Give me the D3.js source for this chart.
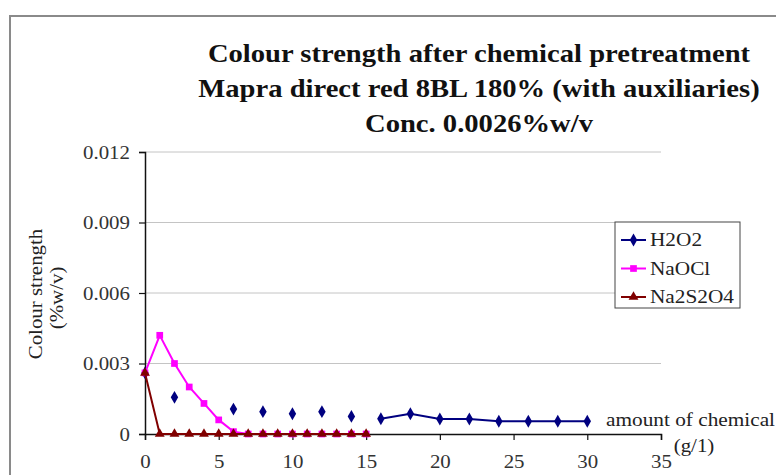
<!DOCTYPE html>
<html>
<head>
<meta charset="utf-8">
<script src="https://cdn.jsdelivr.net/npm/d3@7"></script>
<style>
  body { margin: 0; background: #fff; }
  text { font-family: "Liberation Serif", "Times New Roman", serif; }
</style>
</head>
<body>
<div id="chart"></div>
<script>
// chart values (null = blank cell, breaks the line)
var amounts = [0, 1, 2, 3, 4, 5, 6, 7, 8, 9, 10, 11, 12, 13, 14, 15, 16, 18, 20, 22, 24, 26, 28, 30];
var h2o2 = [0.0026, null, 0.00156, null, null, null, 0.00106, null, 0.00095, null, 0.00086, null, 0.00095, null, 0.00075, null,
            0.00065, 0.00086, 0.00064, 0.00064, 0.00054, 0.00054, 0.00054, 0.00054];
var naocl = [0.0026, 0.0042, 0.003, 0.002, 0.0013, 0.0006, 0.0001, 0, 0, 0, 0, 0, 0, 0, 0, 0,
             null, null, null, null, null, null, null, null];
var na2s2o4 = [0.0026, 0, 0, 0, 0, 0, 0, 0, 0, 0, 0, 0, 0, 0, 0, 0,
               null, null, null, null, null, null, null, null];
var seriesNames = ["H2O2", "NaOCl", "Na2S2O4"];
var yTicks = [0, 0.003, 0.006, 0.009, 0.012];
var xTicks = [0, 5, 10, 15, 20, 25, 30, 35];
var titleLines = ["Colour strength after chemical pretreatment",
                  "Mapra direct red 8BL 180% (with auxiliaries)",
                  "Conc. 0.0026%w/v"];

var svgWidth = 776;
var svgHeight = 475;
var margin = { top: 152, right: 115, bottom: 41, left: 145 };
var width = svgWidth - margin.left - margin.right;
var height = svgHeight - margin.top - margin.bottom;

// the picture's lettering is a little wider than the font, so widen texts
function widen(sel, k) {
    sel.each(function() {
        var w = this.getComputedTextLength();
        d3.select(this)
            .attr("textLength", w * k)
            .attr("lengthAdjust", "spacingAndGlyphs");
    });
}

var svg = d3.select("#chart")
    .append("svg")
    .attr("width", svgWidth)
    .attr("height", svgHeight);

// outer frame
svg.append("rect")
    .attr("x", 10).attr("y", 16)
    .attr("width", 800).attr("height", 500)
    .attr("fill", "none")
    .attr("stroke", "#8a8a8a")
    .attr("stroke-width", 2);

// title
svg.append("g").selectAll("text")
    .data(titleLines)
    .enter()
    .append("text")
    .attr("x", 479)
    .attr("y", (d, i) => 62 + i * 35)
    .attr("text-anchor", "middle")
    .attr("font-size", 26)
    .attr("font-weight", "bold")
    .attr("fill", "#111")
    .text(d => d)
    .call(widen, 1.1);

var chartGroup = svg.append("g")
    .attr("transform", `translate(${margin.left}, ${margin.top})`);

var x = d3.scaleLinear().domain([0, 35]).range([0, width]);
var y = d3.scaleLinear().domain([0, 0.012]).range([height, 0]);

// gridlines
chartGroup.append("g")
    .selectAll("line")
    .data(yTicks.filter(d => d > 0))
    .enter()
    .append("line")
    .attr("x1", 0).attr("x2", width)
    .attr("y1", d => y(d)).attr("y2", d => y(d))
    .attr("stroke", "#c4c4c4")
    .attr("stroke-width", 1);

// axes
var leftAxis = d3.axisLeft(y).tickValues(yTicks)
    .tickFormat(d => d === 0 ? "0" : d3.format(".3f")(d))
    .tickSize(6).tickPadding(9);
var bottomAxis = d3.axisBottom(x).tickValues(xTicks).tickSize(6).tickPadding(15);

var gy = chartGroup.append("g").call(leftAxis);
var gx = chartGroup.append("g").attr("transform", `translate(0, ${height})`).call(bottomAxis);

[gx, gy].forEach(function(g) {
    g.select(".domain").attr("stroke", "#111").attr("stroke-width", 1.5);
    g.selectAll(".tick line").attr("stroke", "#111").attr("stroke-width", 1.2);
    g.selectAll(".tick text")
        .attr("font-family", "Liberation Serif, serif")
        .attr("font-size", 19)
        .attr("fill", "#333")
        .call(widen, 1.1);
});

// axis titles
chartGroup.append("text")
    .attr("transform", `translate(-103, ${294 - margin.top}) rotate(-90)`)
    .attr("text-anchor", "middle")
    .attr("font-size", 19)
    .attr("fill", "#222")
    .text("Colour strength")
    .call(widen, 1.1);
chartGroup.append("text")
    .attr("transform", `translate(-82, ${298 - margin.top}) rotate(-90)`)
    .attr("text-anchor", "middle")
    .attr("font-size", 19)
    .attr("fill", "#222")
    .text("(%w/v)")
    .call(widen, 1.1);

svg.append("text")
    .attr("x", 606).attr("y", 426)
    .attr("font-size", 19)
    .attr("fill", "#222")
    .text("amount of chemical")
    .call(widen, 1.12);
svg.append("text")
    .attr("x", 694).attr("y", 452)
    .attr("text-anchor", "middle")
    .attr("font-size", 19)
    .attr("fill", "#222")
    .text("(g/1)")
    .call(widen, 1.1);

// series
var series = [
    { name: seriesNames[0], values: h2o2, color: "#000080", symbol: d3.symbolDiamond, size: 48 },
    { name: seriesNames[1], values: naocl, color: "#ff00ff", symbol: d3.symbolSquare, size: 45 },
    { name: seriesNames[2], values: na2s2o4, color: "#800000", symbol: d3.symbolTriangle, size: 42 }
];

var line = d3.line()
    .defined(d => d.v !== null)
    .x(d => x(d.a))
    .y(d => y(d.v));

series.forEach(function(s) {
    var pts = amounts.map((a, i) => ({ a: a, v: s.values[i] }));
    chartGroup.append("path")
        .datum(pts)
        .attr("fill", "none")
        .attr("stroke", s.color)
        .attr("stroke-width", 2)
        .attr("d", line);
    chartGroup.selectAll(null)
        .data(pts.filter(d => d.v !== null))
        .enter()
        .append("path")
        .attr("transform", d => `translate(${x(d.a)}, ${y(d.v)})`)
        .attr("d", d3.symbol().type(s.symbol).size(s.size))
        .attr("fill", s.color);
});

// legend
var legend = svg.append("g").attr("transform", "translate(615, 222)");
legend.append("rect")
    .attr("width", 125).attr("height", 86)
    .attr("fill", "#fff")
    .attr("stroke", "#444")
    .attr("stroke-width", 1);
var items = legend.selectAll("g")
    .data(series)
    .enter()
    .append("g")
    .attr("transform", (d, i) => `translate(0, ${18 + i * 28.5})`);
items.append("line")
    .attr("x1", 6).attr("x2", 31)
    .attr("stroke", d => d.color)
    .attr("stroke-width", 2);
items.append("path")
    .attr("transform", "translate(18.5, 0)")
    .attr("d", d => d3.symbol().type(d.symbol).size(d.size)())
    .attr("fill", d => d.color);
items.append("text")
    .attr("x", 35).attr("y", 6)
    .attr("font-size", 19)
    .attr("fill", "#222")
    .text(d => d.name)
    .call(widen, 1.12);
</script>
</body>
</html>
